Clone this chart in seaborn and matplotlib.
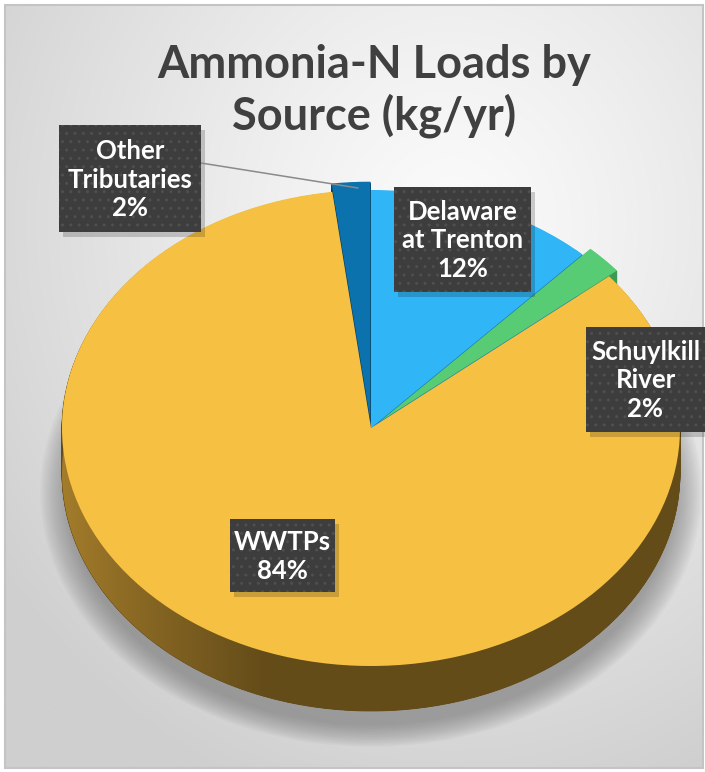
import numpy as np
import matplotlib
matplotlib.use("Agg")
import matplotlib.pyplot as plt
import matplotlib.patches as mpatches
from matplotlib.colors import to_rgb
import seaborn as sns

# ---- data ----
categories = ["Delaware at Trenton", "Schuylkill River", "WWTPs", "Other Tributaries"]
label_lines = ["Delaware\nat Trenton", "Schuylkill\nRiver", "WWTPs", "Other\nTributaries"]
values = [12, 2, 84, 2]
explode = [0.0, 0.035, 0.0, 0.035]
title = "Ammonia-N Loads by\nSource (kg/yr)"

top_colors = ["#30B5F7", "#58CC74", "#F6C143", "#0B72AE"]
side_colors = ["#1A78A8", "#3C9A55", "#644C19", "#063F62"]

sns.set_theme(style="white")
plt.rcParams["font.family"] = ["Lato", "DejaVu Sans"]

W, H = 705, 772
fig = plt.figure(figsize=(W / 100, H / 100), dpi=100, facecolor="white")

# ---- background axes (pixel coordinates) ----
bg = fig.add_axes([0, 0, 1, 1], zorder=0)
bg.set_xlim(0, W)
bg.set_ylim(H, 0)
bg.axis("off")
yy, xx = np.mgrid[0:H, 0:W]
d = np.sqrt(((xx - 450) / 1.0) ** 2 + ((yy - 220) / 1.1) ** 2)
f = np.clip(d / 560, 0, 1) ** 1.2
c0 = np.array(to_rgb("#fbfbfb"))
c1 = np.array(to_rgb("#cfcfcf"))
img = c0[None, None, :] * (1 - f[..., None]) + c1[None, None, :] * f[..., None]
bg.imshow(img, extent=(5, 703, 768, 5), aspect="auto", zorder=0)
bg.add_patch(mpatches.Rectangle((5, 5), 698, 763, fill=False, edgecolor="#c4c4c4", lw=1.5, zorder=1))

# ---- pie axes: ellipse by unequal scaling ----
cx, cy, rx, ry = 371, 428, 309, 238
thick = 45 / ry
ax = fig.add_axes([0, 0, 1, 1], zorder=1)
ax.patch.set_alpha(0)

# soft shadow
for i in range(14):
    s = 1.07 - i * 0.007
    ax.add_patch(mpatches.Ellipse((0, -thick - 0.08), 2 * s, 2 * s,
                                  facecolor="#6a6a6a", alpha=0.05, lw=0, zorder=0))

# side walls: stacked copies of the pie
N = 45
for k in range(N, 0, -1):
    ax.pie(values, colors=side_colors, explode=explode, startangle=90,
           counterclock=False, center=(0, -thick * k / N),
           wedgeprops=dict(linewidth=0.6, antialiased=True))
    for w, c in zip(ax.patches[-len(values):], side_colors):
        w.set_edgecolor(c)
        w.set_zorder(1)

# gradient on the visible side of the big wedge
wedges_bottom = ax.pie(values, colors=side_colors, explode=explode, startangle=90,
                       counterclock=False, center=(0, -thick),
                       wedgeprops=dict(linewidth=0))[0]
for w in wedges_bottom:
    w.set_zorder(1)
gx = np.linspace(0, 1, 300)
lt = np.array(to_rgb("#A67E2C"))
dk = np.array(to_rgb("#644C19"))
t = np.clip(gx / 0.33, 0, 1) ** 0.9
grad = lt[None, :] * (1 - t[:, None]) + dk[None, :] * t[:, None]
grad = np.repeat(grad[None, :, :], 4, axis=0)
gim = ax.imshow(grad, extent=(-1.02, 1.02, -1.3, 0.3), aspect="auto", zorder=2)
gim.set_clip_path(wedges_bottom[2])

# top face
tops = ax.pie(values, colors=top_colors, explode=explode, startangle=90,
              counterclock=False, center=(0, 0),
              wedgeprops=dict(linewidth=0))[0]
for w in tops:
    w.set_zorder(3)

ax.set_aspect("auto")
ax.set_xlim(-cx / rx, (W - cx) / rx)
ax.set_ylim((cy - H) / ry, cy / ry)
ax.axis("off")

# ---- overlay: title, labels ----
ov = fig.add_axes([0, 0, 1, 1], zorder=2)
ov.patch.set_alpha(0)
ov.set_xlim(0, W)
ov.set_ylim(H, 0)
ov.axis("off")

ov.text(374, 91, title, ha="center", va="center", fontsize=32.5, fontweight="bold",
        color="#404040", linespacing=1.18)

pcts = [f"{round(v / sum(values) * 100)}%" for v in values]
boxes = {  # x0, y0, w, h in pixels
    "Delaware at Trenton": (394, 187, 137, 105),
    "Schuylkill River": (586, 327, 119, 105),
    "WWTPs": (230, 519, 105, 73),
    "Other Tributaries": (59, 125, 142, 107),
}
for cat, lab, pc in zip(categories, label_lines, pcts):
    x0, y0, bw, bh = boxes[cat]
    ov.add_patch(mpatches.Rectangle((x0 + 4, y0 + 5), bw, bh, facecolor="#000000",
                                    alpha=0.18, lw=0, zorder=1))
    ov.add_patch(mpatches.Rectangle((x0, y0), bw, bh, facecolor="#3d3d3d",
                                    edgecolor="#4f4f4f", hatch="..", lw=0, zorder=2))
    ov.text(x0 + bw / 2, y0 + bh / 2 + 1, lab + "\n" + pc, ha="center", va="center",
            fontsize=18.5, fontweight="bold", color="white", linespacing=1.22, zorder=3)

# leader line for Other Tributaries
ov.plot([201, 358], [163, 188], color="#8a8a8a", lw=1.1, zorder=1)

fig.savefig("out.png", dpi=100, facecolor="white")
